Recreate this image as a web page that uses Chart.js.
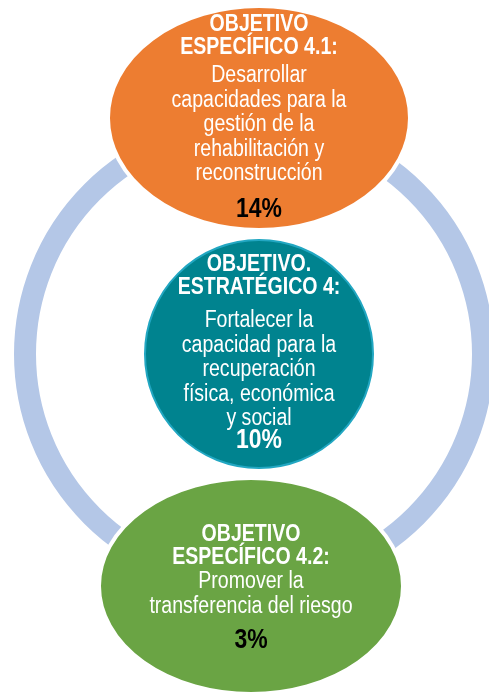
<!DOCTYPE html>
<html lang="es">
<head>
    <meta charset="UTF-8">
    <title>Objetivo estratégico 4</title>
    <script src="https://cdn.jsdelivr.net/npm/chart.js"></script>
    <style>
        html, body {
            margin: 0;
            padding: 0;
            background: #ffffff;
        }
        #diagram {
            display: block;
        }
    </style>
</head>
<body>
    <canvas id="diagram" width="489" height="694"></canvas>

    <script>
        // Data
        const titles = [
            ['OBJETIVO', 'ESPECÍFICO 4.1:'],
            ['OBJETIVO.', 'ESTRATÉGICO 4:'],
            ['OBJETIVO', 'ESPECÍFICO 4.2:']
        ];
        const descriptions = [
            ['Desarrollar', 'capacidades para la', 'gestión de la', 'rehabilitación y', 'reconstrucción'],
            ['Fortalecer la', 'capacidad para la', 'recuperación', 'física, económica', 'y social'],
            ['Promover la', 'transferencia del riesgo']
        ];
        const percentages = [14, 10, 3];

        // Layout (in axis units) and styles, kept apart from the data
        const shapes = [
            { cx: 259, cy: 118, rx: 151, ry: 112, fill: '#ED7D31', stroke: '#ffffff', strokeW: 4, textTop: 25, gap: 5, pctY: 210, pctColor: '#000000' },
            { cx: 259, cy: 354, rx: 114, ry: 114, fill: '#00838F', stroke: '#22A7C2', strokeW: 2, textTop: 265, gap: 10, pctY: 441, pctColor: '#ffffff' },
            { cx: 251, cy: 586, rx: 152, ry: 108, fill: '#6AA444', stroke: '#ffffff', strokeW: 4, textTop: 535, gap: 1, pctY: 641, pctColor: '#000000' }
        ];
        const ring = { cx: 254, cy: 354, r: 229, width: 22, color: '#B4C7E7' };
        const drawOrder = [1, 0, 2];

        // no narrow face installed: squeeze Liberation Sans horizontally instead
        const FONT = '"Liberation Sans", Arial, sans-serif';
        const SQUEEZE = 0.85;

        function narrowText(ctx, text, x, y) {
            ctx.save();
            ctx.translate(x, y);
            ctx.scale(SQUEEZE, 1);
            ctx.fillText(text, 0, 0);
            ctx.restore();
        }

        const diagramPlugin = {
            id: 'diagram',
            beforeDatasetsDraw(chart) {
                const ctx = chart.ctx;
                const xs = chart.scales.x;
                const ys = chart.scales.y;
                const px = v => xs.getPixelForValue(v);
                const py = v => ys.getPixelForValue(v);

                // ring
                ctx.save();
                ctx.beginPath();
                ctx.arc(px(ring.cx), py(ring.cy), px(ring.cx + ring.r) - px(ring.cx), 0, Math.PI * 2);
                ctx.lineWidth = ring.width;
                ctx.strokeStyle = ring.color;
                ctx.stroke();
                ctx.restore();

                drawOrder.forEach(i => {
                    const s = shapes[i];
                    const meta = chart.getDatasetMeta(0).data[i];
                    const x = meta.x;
                    const y = meta.y;
                    const rx = Math.abs(px(s.cx + s.rx) - x);
                    const ry = Math.abs(py(s.cy + s.ry) - y);

                    ctx.save();
                    ctx.beginPath();
                    ctx.ellipse(x, y, rx, ry, 0, 0, Math.PI * 2);
                    ctx.fillStyle = s.fill;
                    ctx.fill();
                    ctx.lineWidth = s.strokeW;
                    ctx.strokeStyle = s.stroke;
                    ctx.stroke();

                    ctx.textAlign = 'center';
                    ctx.textBaseline = 'middle';
                    ctx.fillStyle = '#ffffff';

                    let ty = s.textTop;
                    ctx.font = 'bold 23px ' + FONT;
                    titles[i].forEach(line => {
                        narrowText(ctx, line, x, py(ty));
                        ty += 23;
                    });
                    ty += s.gap;
                    ctx.font = '23px ' + FONT;
                    descriptions[i].forEach(line => {
                        narrowText(ctx, line, x, py(ty));
                        ty += 24.5;
                    });

                    ctx.font = 'bold 27px ' + FONT;
                    ctx.fillStyle = s.pctColor;
                    narrowText(ctx, percentages[i] + '%', x, py(s.pctY));
                    ctx.restore();
                });
            }
        };

        new Chart(document.getElementById('diagram').getContext('2d'), {
            type: 'scatter',
            data: {
                labels: titles.map(t => t.join(' ')),
                datasets: [{
                    label: 'Objetivos',
                    data: shapes.map((s, i) => ({ x: s.cx, y: s.cy, v: percentages[i] })),
                    pointRadius: 0,
                    pointHoverRadius: 0
                }]
            },
            options: {
                responsive: false,
                animation: false,
                layout: { padding: 0 },
                scales: {
                    x: { type: 'linear', min: 0, max: 489, display: false },
                    y: { type: 'linear', min: 0, max: 694, reverse: true, display: false }
                },
                plugins: {
                    legend: { display: false },
                    tooltip: { enabled: false }
                }
            },
            plugins: [diagramPlugin]
        });
    </script>
</body>
</html>
